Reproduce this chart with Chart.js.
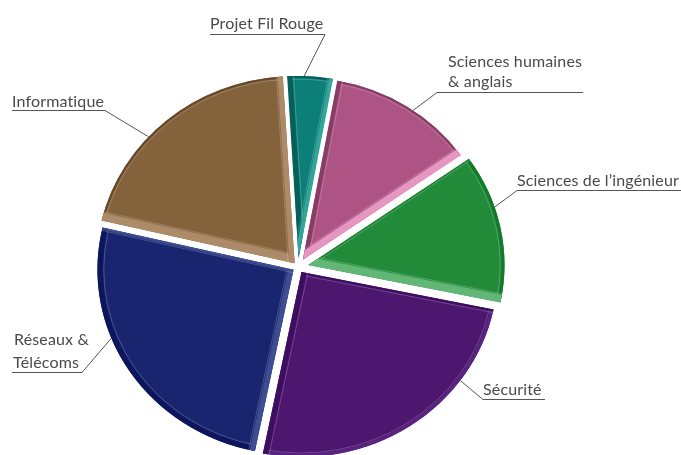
<!DOCTYPE html>
<html><head><meta charset="utf-8">
<style>html,body{margin:0;padding:0;background:#fff}canvas{display:block}</style>
<script src="https://cdn.jsdelivr.net/npm/chart.js@4"></script></head>
<body><canvas id="c" width="681" height="455"></canvas>
<script>
const categories = ["Projet Fil Rouge","Sciences humaines & anglais","Sciences de l’ingénieur","Sécurité","Réseaux & Télécoms","Informatique"];
const values = [3.8,12.4,13,24.9,25.5,20.4];
const fills = ["#0b7f78","#ad5484","#228b3a","#4d176f","#19266f","#84623c"];

const offsets = [36,34,40,24,20,20];
const radii = [182,182,185,185,185,187];
const bevels = [
 {start:["#066058",5],end:["#35a59b",4],rim:["#066058",2]},
 {start:["#873d66",4],end:["#e795c1",7],rim:["#873d66",2]},
 {start:["#1a7d30",1],end:["#62b676",8],rim:["#137a2c",3]},
 {start:["#3d0d5f",2],end:["#3d0d5f",5],rim:["#5a2582",3]},
 {start:["#3f4d92",5],end:["#3f4d92",2],rim:["#0d155c",5]},
 {start:["#ad8b69",8],end:["#ad8b69",5],rim:["#66492a",2]}
];
const callouts = [
 {lines:[["Projet Fil Rouge",210,29]],rule:[[210,34],[325,34]],frac:.37},
 {lines:[["Sciences humaines",448,67],["& anglais",448,87]],rule:[[583,92],[437,92]],frac:.55},
 {lines:[["Sciences de l’ingénieur",517,186]],rule:[[681,190],[517,190]],frac:.36},
 {lines:[["Sécurité",483,395]],rule:[[545,399],[483,399]],frac:.27},
 {lines:[["Réseaux &",14,345],["Télécoms",13,368]],rule:[[12,372],[82,372]],frac:.62},
 {lines:[["Informatique",12,107]],rule:[[12,110],[105,110]],frac:.4}
];
const SX = 1.06;

function geom(a,i){
  const mid=(a.startAngle+a.endAngle)/2, t=offsets[i]/4;
  return {x:a.x+Math.cos(mid)*t, y:a.y+Math.sin(mid)*t, R:radii[i]};
}
const bevelPlugin = {
  id:"bevel",
  beforeDatasetsDraw(chart){
    const arcs=chart.getDatasetMeta(0).data, ctx=chart.ctx, a=arcs[0];
    arcs.forEach((el,i)=>{
      const fix=1-Math.sin(Math.min(Math.PI,el.circumference));
      el.outerRadius=radii[i]-offsets[i]/4*fix;
    });
    ctx.save();ctx.translate(a.x,a.y);ctx.scale(SX,1);ctx.translate(-a.x,-a.y);
  },
  afterDatasetsDraw(chart){
    const ctx=chart.ctx, arcs=chart.getDatasetMeta(0).data;
    arcs.forEach((a,i)=>{
      const b=bevels[i],{x,y,R}=geom(a,i),s=a.startAngle,e=a.endAngle;
      ctx.save();
      ctx.beginPath();ctx.moveTo(x,y);ctx.arc(x,y,R,s,e);ctx.closePath();ctx.clip();
      ctx.lineCap="butt";
      ctx.strokeStyle=b.rim[0];ctx.lineWidth=b.rim[1]*2;
      ctx.beginPath();ctx.arc(x,y,R,s,e);ctx.stroke();
      const hl=()=>{ctx.strokeStyle="rgba(255,255,255,.25)";ctx.lineWidth=.8;};
      hl();ctx.beginPath();ctx.arc(x,y,R-b.rim[1]-1,s,e);ctx.stroke();
      [[s,b.start,1],[e,b.end,-1]].forEach(([ang,bv,sign])=>{
        const ex=x+Math.cos(ang)*R*1.1, ey=y+Math.sin(ang)*R*1.1;
        const nx=-Math.sin(ang)*sign, ny=Math.cos(ang)*sign;
        ctx.strokeStyle=bv[0];ctx.lineWidth=bv[1]*2;
        ctx.beginPath();ctx.moveTo(x,y);ctx.lineTo(ex,ey);ctx.stroke();
        hl();
        const d=bv[1]+1;
        ctx.beginPath();ctx.moveTo(x+nx*d,y+ny*d);ctx.lineTo(ex+nx*d,ey+ny*d);ctx.stroke();
      });
      ctx.restore();
    });
    ctx.restore();
    ctx.save();
    const c0=arcs[0];
    ctx.font='16px Lato';ctx.letterSpacing='0.15px';ctx.fillStyle="#4a4a4a";ctx.textBaseline="alphabetic";
    ctx.strokeStyle="#555";ctx.lineWidth=1;
    arcs.forEach((a,i)=>{
      const c=callouts[i],{x,y,R}=geom(a,i);
      const ang=a.startAngle+(a.endAngle-a.startAngle)*c.frac;
      const px=c0.x+(x+Math.cos(ang)*R-c0.x)*SX, py=y+Math.sin(ang)*R;
      ctx.beginPath();ctx.moveTo(c.rule[0][0],c.rule[0][1]+.5);ctx.lineTo(c.rule[1][0],c.rule[1][1]+.5);ctx.lineTo(px,py);ctx.stroke();
      c.lines.forEach(l=>ctx.fillText(l[0],l[1],l[2]));
    });
    ctx.restore();
  }
};
new Chart(document.getElementById("c"),{
  type:"pie",
  data:{labels:categories,datasets:[{data:values,backgroundColor:fills,borderWidth:0,offset:offsets,hoverOffset:0}]},
  options:{responsive:false,animation:false,rotation:-3.4,radius:185,
    layout:{padding:{right:85,top:79}},
    plugins:{legend:{display:false},tooltip:{enabled:false}}},
  plugins:[bevelPlugin]
});
</script></body></html>
